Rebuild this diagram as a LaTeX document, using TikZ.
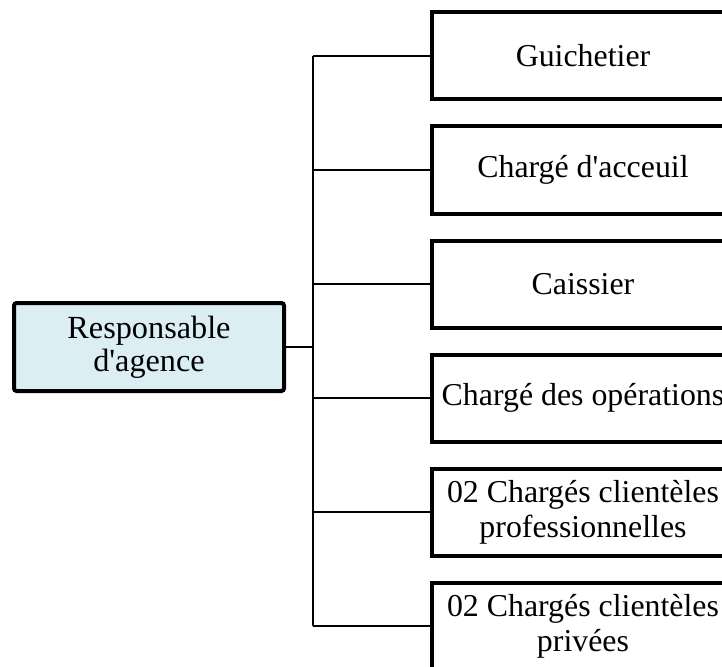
\documentclass[tikz,border=0pt]{standalone}
\usepackage{fontspec}
\setmainfont[Ligatures=ResetAll]{Liberation Serif}
\definecolor{mainfill}{HTML}{DAEEF3}
\begin{document}
\begin{tikzpicture}[x=0.75pt,y=-0.75pt,
  rolebox/.style={draw=black, line width=3pt, fill=white, minimum width=226.5pt, minimum height=65.25pt, inner sep=0pt, align=center, font=\fontsize{23.9}{26.2}\selectfont},
  headbox/.style={draw=black, line width=3pt, fill=mainfill, rounded corners=2pt, minimum width=202.5pt, minimum height=66pt, inner sep=0pt, align=center, font=\fontsize{24.2}{24.5}\selectfont},
  link/.style={draw=black, line width=1.1pt}]
\useasboundingbox (0,0) rectangle (722,667);
\clip (0,0) rectangle (722,667);
\node[headbox] (head) at (149,347) {Responsable\\d\textquotesingle agence};
\node[rolebox] (r1) at (583,56) {Guichetier};
\node[rolebox] (r2) at (583,170) {Chargé d\textquotesingle acceuil};
\node[rolebox] (r3) at (583,284) {Caissier};
\node[rolebox] (r4) at (583,398) {Chargé des opérations};
\node[rolebox] (r5) at (583,512) {02 Chargés clientèles\\professionnelles};
\node[rolebox] (r6) at (583,626) {02 Chargés clientèles\\privées};
\coordinate (j) at (313,347);
\coordinate (t1) at (313,56);
\coordinate (t6) at (313,626);
\draw[link] (head.east) -- (j);
\draw[link] (t1) -- (t6);
\foreach \i in {1,...,6} {
  \draw[link] (r\i.west -| j) -- (r\i.west);
}
\end{tikzpicture}
\end{document}
